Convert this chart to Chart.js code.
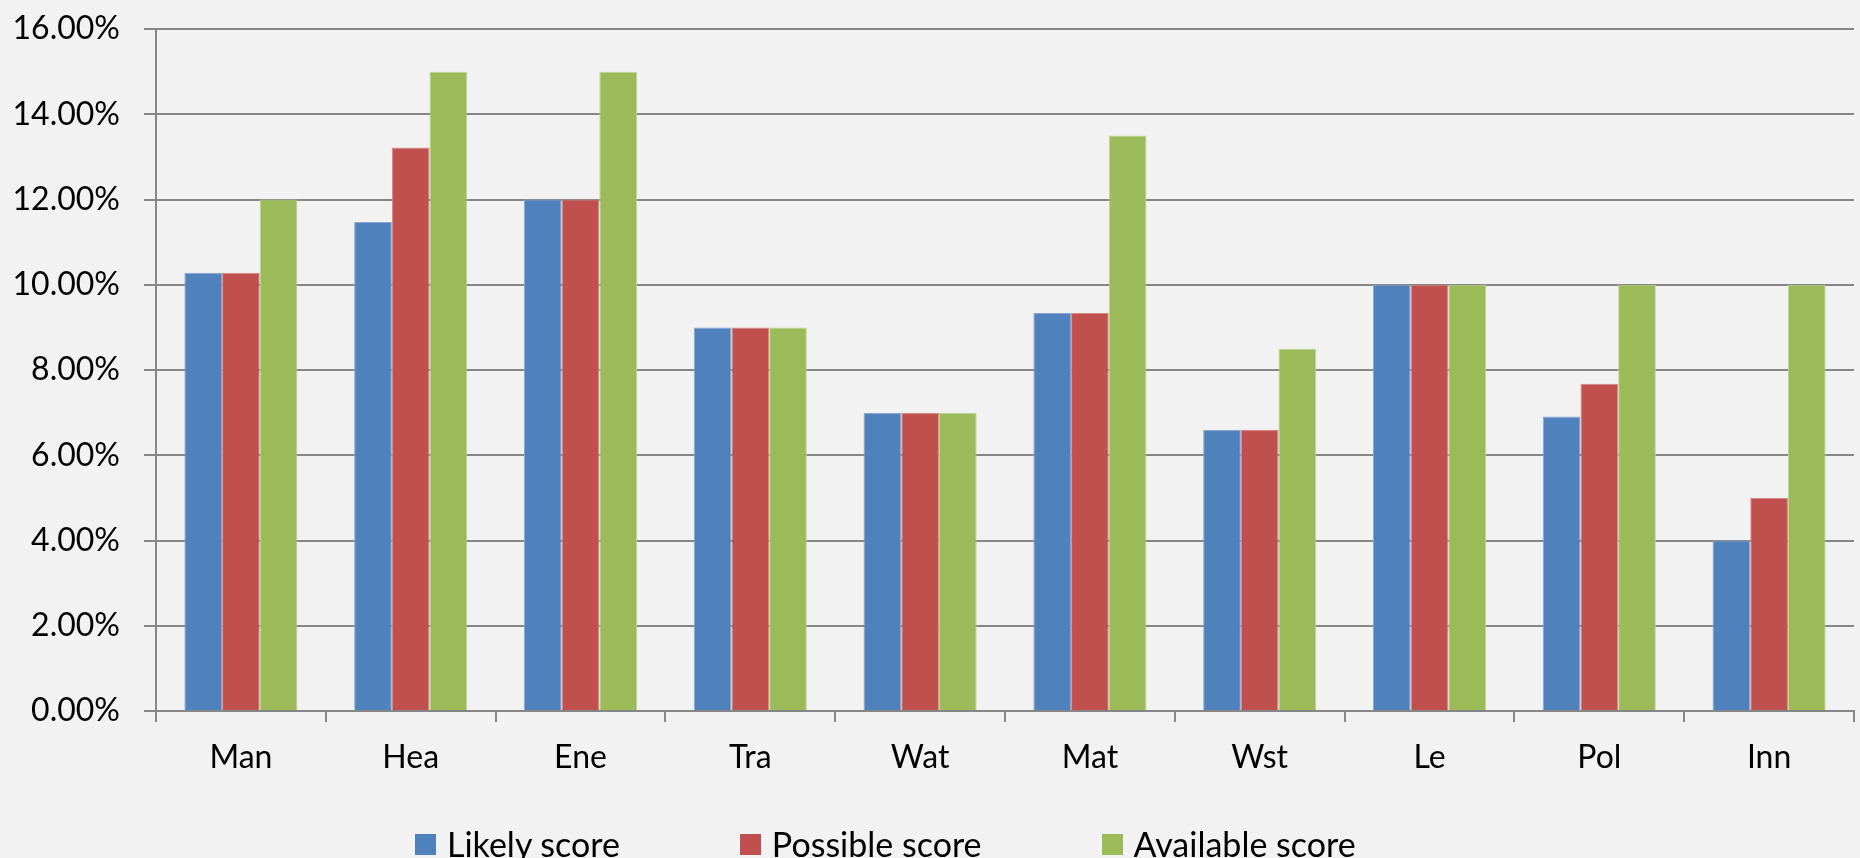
<!DOCTYPE html>
<html>
<head>
<meta charset="utf-8">
<script src="https://cdn.jsdelivr.net/npm/chart.js@4/dist/chart.umd.min.js"></script>
<style>
  html, body { margin: 0; padding: 0; background: #f2f2f2; }
  #wrap { position: relative; width: 1860px; height: 858px; }
  #c { position: absolute; left: 0; top: 0; }
  #legend {
    position: absolute; left: 415px; top: 827px;
    display: flex; align-items: center;
    font-family: Lato, "Open Sans", sans-serif; font-size: 34px; line-height: 34px; color: #000;
  }
  #legend .item { display: flex; align-items: center; margin-right: 120px; white-space: nowrap; }
  #legend .box { width: 21px; height: 21px; margin-right: 11px; }
</style>
</head>
<body>
<div id="wrap">
  <canvas id="c" width="1860" height="858"></canvas>
  <div id="legend"></div>
</div>
<script>
// Assessment categories
const categories = ['Man', 'Hea', 'Ene', 'Tra', 'Wat', 'Mat', 'Wst', 'Le', 'Pol', 'Inn'];

// Scores per category, in percent
const likelyScore    = [10.28, 11.47, 12.00, 9.00, 7.00, 9.34, 6.60, 10.00, 6.91, 4.00];
const possibleScore  = [10.28, 13.22, 12.00, 9.00, 7.00, 9.34, 6.60, 10.00, 7.68, 5.00];
const availableScore = [12.00, 15.00, 15.00, 9.00, 7.00, 13.50, 8.50, 10.00, 10.00, 10.00];

// Value axis tick positions, in percent
const yTickValues = [0, 2, 4, 6, 8, 10, 12, 14, 16];

const seriesNames = ['Likely score', 'Possible score', 'Available score'];
const seriesColors = ['#4F81BD', '#C0504D', '#9BBB59'];
const seriesEdges = ['#86a6d3', '#d58885', '#bdd493'];

const axisGray = '#868686';
const tickFont = { family: 'Lato, "Open Sans", sans-serif', size: 32 };

// Builds the legend below the chart from the chart's own legend items
const htmlLegend = {
  id: 'htmlLegend',
  afterUpdate(chart) {
    const host = document.getElementById('legend');
    host.innerHTML = '';
    const items = chart.options.plugins.legend.labels.generateLabels(chart);
    items.forEach(it => {
      const row = document.createElement('div');
      row.className = 'item';
      const box = document.createElement('span');
      box.className = 'box';
      box.style.background = it.fillStyle;
      const txt = document.createElement('span');
      txt.textContent = it.text;
      row.appendChild(box);
      row.appendChild(txt);
      host.appendChild(row);
    });
  }
};

const datasets = [likelyScore, possibleScore, availableScore].map((values, i) => ({
  label: seriesNames[i],
  data: values,
  backgroundColor: seriesColors[i],
  borderColor: seriesEdges[i],
  borderWidth: 1,
  borderSkipped: 'bottom',
  categoryPercentage: 0.666,
  barPercentage: 1.0
}));

new Chart(document.getElementById('c'), {
  type: 'bar',
  data: { labels: categories, datasets },
  options: {
    responsive: false,
    animation: false,
    devicePixelRatio: 1,
    layout: { padding: { top: 29, right: 6, bottom: 0, left: 0 } },
    plugins: {
      legend: { display: false },
      tooltip: { enabled: false }
    },
    scales: {
      x: {
        offset: true,
        grid: {
          offset: true,
          drawOnChartArea: false,
          drawTicks: true,
          tickLength: 11,
          color: axisGray,
          lineWidth: 2
        },
        border: { display: true, color: axisGray, width: 2 },
        ticks: { color: '#000', font: tickFont, padding: 16, maxRotation: 0 },
        afterFit(scale) { scale.height = 147; }
      },
      y: {
        min: 0,
        max: 16,
        afterBuildTicks(scale) { scale.ticks = yTickValues.map(v => ({ value: v })); },
        grid: {
          color: axisGray,
          lineWidth: 2,
          drawTicks: true,
          tickLength: 12
        },
        border: { display: true, color: axisGray, width: 2 },
        ticks: {
          color: '#000',
          font: tickFont,
          padding: 24,
          callback: v => v.toFixed(2) + '%'
        },
        afterFit(scale) {
          // fixed axis width; the outer layout padding keeps the top label on canvas
          scale.width = 156;
          scale.paddingTop = 0;
          scale.paddingBottom = 0;
        }
      }
    }
  },
  plugins: [htmlLegend]
});
</script>
</body>
</html>
